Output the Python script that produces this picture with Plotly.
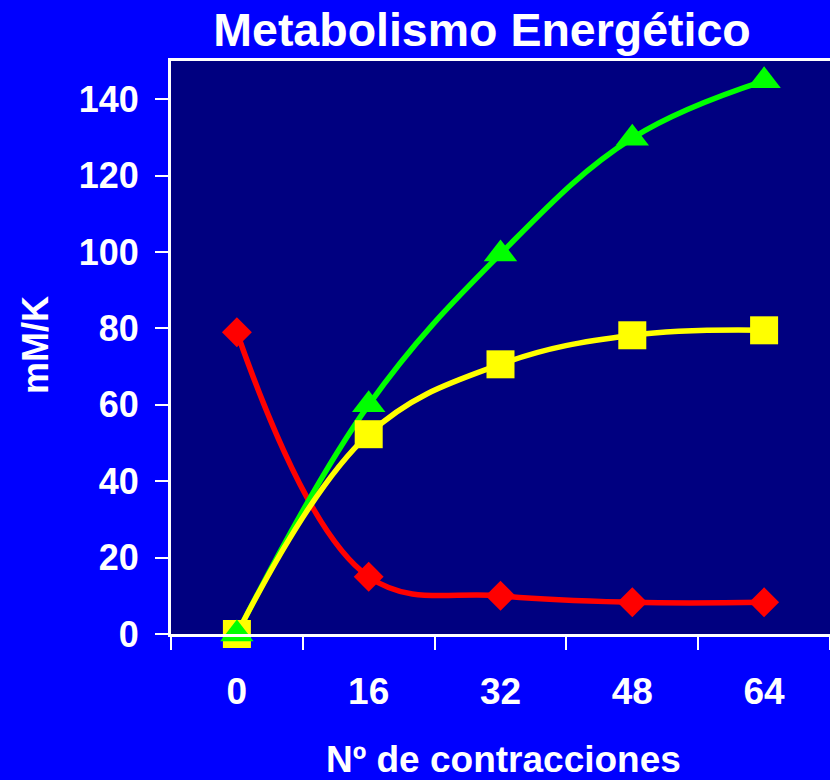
import plotly.graph_objects as go

contracciones = [0, 16, 32, 48, 64]
serie_roja = [79, 15, 10, 8.3, 8.3]
serie_amarilla = [0, 52.3, 70.6, 78.2, 79.5]
serie_verde = [0, 60, 99.5, 129.8, 144.8]
y_ticks = [0, 20, 40, 60, 80, 100, 120, 140]

FONT = "Liberation Sans, Arial, sans-serif"
WHITE = "#FFFFFF"

fig = go.Figure()

series = [
    (serie_roja, "#FF0000", "diamond", 23),
    (serie_verde, "#00FF00", "triangle-up", 29),
    (serie_amarilla, "#FFFF00", "square", 28),
]
for vals, col, sym, sz in series:
    fig.add_trace(go.Scatter(
        x=contracciones, y=vals, mode="lines",
        line=dict(color=col, width=5.5, shape="spline", smoothing=1.1),
        hoverinfo="skip", showlegend=False, cliponaxis=False))
for vals, col, sym, sz in [series[0], series[2], series[1]]:
    fig.add_trace(go.Scatter(
        x=contracciones, y=vals, mode="markers",
        marker=dict(color=col, symbol=sym, size=sz, line=dict(width=0)),
        showlegend=False, cliponaxis=False))

fig.update_layout(
    width=830, height=780,
    paper_bgcolor="#0000FF", plot_bgcolor="#000080",
    margin=dict(l=171, r=0, t=61, b=146),
    font=dict(family=FONT, color=WHITE),
    title=dict(text="<b>Metabolismo Energético</b>", x=482/830, xanchor="center",
               y=1 - 30/780, yanchor="middle", xref="container", yref="container",
               font=dict(size=46.5, color=WHITE, family=FONT)),
    xaxis=dict(
        range=[-8, 72], tickmode="array", tickvals=contracciones,
        ticktext=[f"<b>{v}</b>" for v in contracciones],
        ticks="", showgrid=False, zeroline=False,
        showline=True, linecolor=WHITE, linewidth=3, mirror=True,
        tickfont=dict(size=37, color=WHITE, family=FONT),
        ticklabelstandoff=23,
        minor=dict(tickmode="linear", tick0=-8, dtick=16, ticks="outside",
                   ticklen=13, tickwidth=2, tickcolor=WHITE, showgrid=False),
    ),
    yaxis=dict(
        range=[0, 150], tickmode="array", tickvals=y_ticks,
        ticktext=[f"<b>{v}</b>" for v in y_ticks],
        ticks="outside", ticklen=13, tickwidth=2, tickcolor=WHITE,
        showgrid=False, zeroline=False,
        showline=True, linecolor=WHITE, linewidth=3, mirror=False,
        tickfont=dict(size=36, color=WHITE, family=FONT),
        ticklabelstandoff=9,
    ),
    annotations=[
        dict(text="<b>mM/K</b>", xref="paper", yref="paper",
             x=(35 - 171) / 659, y=(634 - 345) / 573, textangle=-90,
             showarrow=False, xanchor="center", yanchor="middle",
             font=dict(size=36, color=WHITE, family=FONT)),
        dict(text="<b>Nº de contracciones</b>", xref="paper", yref="paper",
             x=(503 - 171) / 659, y=(634 - 759) / 573,
             showarrow=False, xanchor="center", yanchor="middle",
             font=dict(size=37, color=WHITE, family=FONT)),
    ],
)

fig.write_html(
    "out.html",
    config={"displayModeBar": False},
    post_script="document.body.style.margin='0';document.body.style.overflow='hidden';"
)
